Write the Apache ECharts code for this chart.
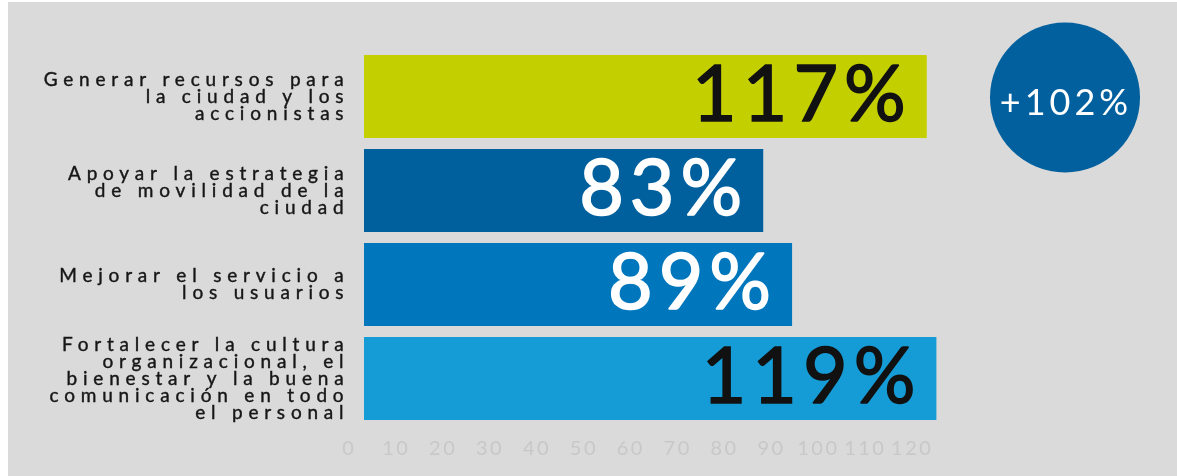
<!DOCTYPE html>
<html>
<head>
<meta charset="utf-8">
<script src="https://cdn.jsdelivr.net/npm/echarts@6/dist/echarts.min.js"></script>
<style>
  html, body { margin: 0; padding: 0; background: #fff; }
  #main { position: absolute; left: 8px; top: 2px; width: 1169px; height: 474px; }
</style>
</head>
<body>
<div id="main"></div>
<script>
// objetivos (de arriba hacia abajo)
const categories = [
  'Generar recursos para la ciudad y los accionistas',
  'Apoyar la estrategia de movilidad de la ciudad',
  'Mejorar el servicio a los usuarios',
  'Fortalecer la cultura organizacional, el bienestar y la buena comunicación en todo el personal'
];
// cumplimiento en %
const values = [117, 83, 89, 119];
// etiquetas del eje
const tickStep = 10;
const tickMax = 120;
// variación total
const totalGrowth = 102;

const barColors = ['#c4cf00', '#00609e', '#0077bd', '#159bd5'];
const labelColors = ['#111111', '#ffffff', '#ffffff', '#111111'];

// partir el texto en líneas de 21 caracteres como máximo
const wrap = (s, n) => {
  const lines = [];
  let cur = '';
  s.split(' ').forEach(w => {
    if (cur && (cur + ' ' + w).length > n) { lines.push(cur); cur = w; }
    else cur = cur ? cur + ' ' + w : w;
  });
  if (cur) lines.push(cur);
  return lines.join('\n');
};

const gridW = 600;
const barScale = 4.81;   // px por unidad en las barras
const tickScale = 4.69;  // px por unidad en las etiquetas
const barMin = -3.035;

const chart = echarts.init(document.getElementById('main'));
chart.setOption({
  backgroundColor: '#dadada',
  animation: false,
  grid: { left: 341.4, width: gridW, top: 47.5, bottom: 50.5 },
  xAxis: [
    { type: 'value', min: barMin, max: barMin + gridW / barScale, show: false },
    {
      type: 'value', min: 0, max: gridW / tickScale, interval: tickStep, position: 'bottom', zlevel: 1,
      axisLine: { show: false }, axisTick: { show: false }, splitLine: { show: false },
      axisLabel: {
        color: '#c8c8c8', fontFamily: 'Lato', fontSize: 20, margin: 13,
        formatter: v => (v % tickStep === 0 && v <= tickMax) ? String(v) : ''
      }
    }
  ],
  yAxis: {
    type: 'category', data: categories, inverse: true, zlevel: 0,
    axisLine: { show: false }, axisTick: { show: false },
    axisLabel: {
      formatter: c => wrap(c, 21),
      color: '#161616', fontFamily: 'Lato', fontSize: 19, lineHeight: 17, margin: 0, align: 'right',
      textBorderColor: '#161616', textBorderWidth: 0.4
    }
  },
  series: [{
    type: 'bar', xAxisIndex: 0, zlevel: 2, barWidth: 83,
    data: values.map((v, i) => ({
      value: v,
      itemStyle: { color: barColors[i] },
      label: { color: labelColors[i], textBorderColor: labelColors[i] }
    })),
    label: {
      show: true, position: 'insideRight', distance: 15, formatter: '{c}%',
      fontFamily: 'Lato', fontSize: 77, fontWeight: 'normal', textBorderWidth: 1.6
    }
  }],
  graphic: [
    { type: 'circle', zlevel: 3, shape: { cx: 1057, cy: 95.5, r: 75 }, style: { fill: '#02609e' } },
    {
      type: 'text', zlevel: 3, x: 1058, y: 101,
      style: {
        text: '+' + totalGrowth + '%', fill: '#ffffff', font: '36px Lato',
        textAlign: 'center', textVerticalAlign: 'middle', align: 'center', verticalAlign: 'middle'
      }
    }
  ]
});

// espaciado entre letras por capa
const spacing = { 0: '5.8px', 1: '2.5px', 2: '6px', 3: '4px' };
const painter = chart.getZr().painter;
const layers = painter.getLayers ? painter.getLayers() : {};
Object.keys(layers).forEach(z => {
  if (spacing[z] && layers[z].ctx) layers[z].ctx.letterSpacing = spacing[z];
});
painter.refresh(true);
</script>
</body>
</html>
